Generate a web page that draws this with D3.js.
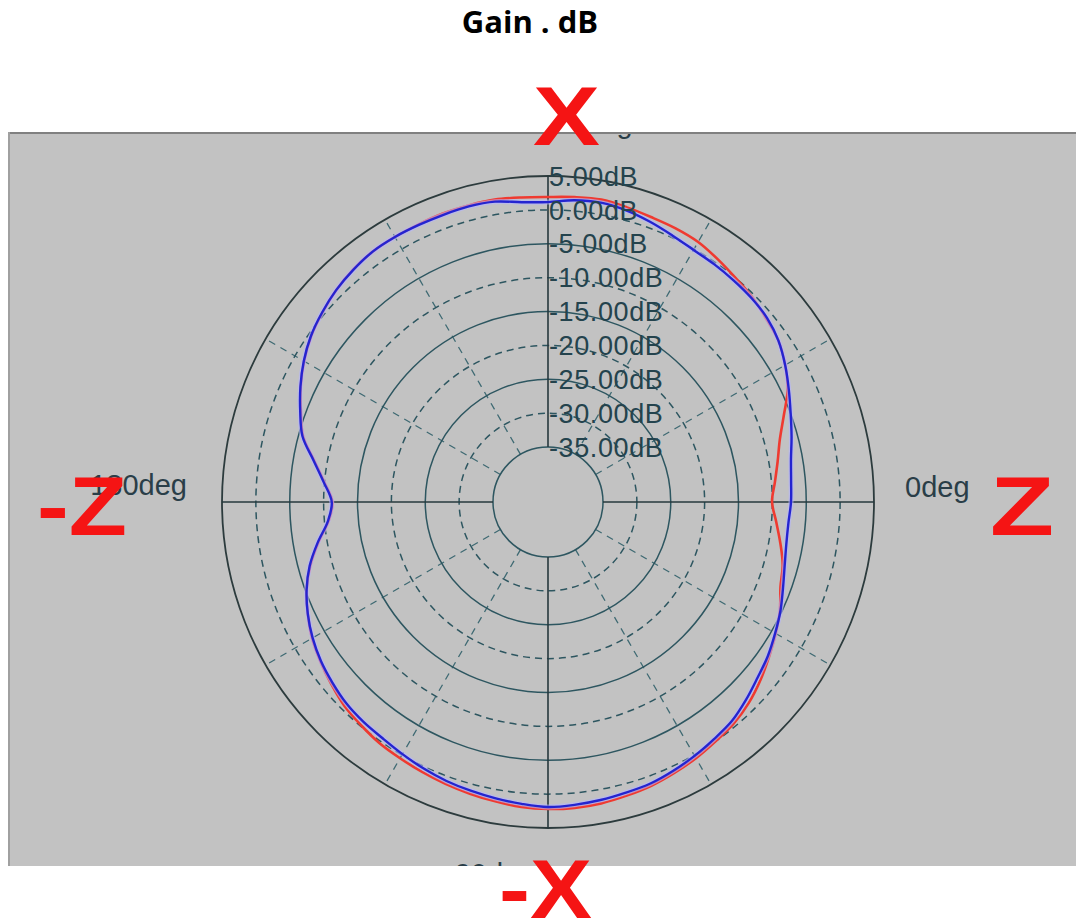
<!DOCTYPE html>
<html>
<head>
<meta charset="utf-8">
<script src="https://d3js.org/d3.v7.min.js"></script>
<style>
  body { margin: 0; background: #fff; }
  svg { display: block; }
</style>
</head>
<body>
<script>
// angle in degrees, 0 = right (Z), 90 = top (X), counter-clockwise
const angles = [0, 5, 10, 15, 20, 25, 30, 35, 40, 45, 50, 55,
  60, 65, 70, 75, 80, 85, 90, 95, 100, 105, 110, 115,
  120, 125, 130, 135, 140, 145, 150, 155, 160, 165, 170, 175,
  180, 185, 190, 195, 200, 205, 210, 215, 220, 225, 230, 235,
  240, 245, 250, 255, 260, 265, 270, 275, 280, 285, 290, 295,
  300, 305, 310, 315, 320, 325, 330, 335, 340, 345, 350, 355];

// gain in dB (blue trace)
const gainBlue = [-7.25, -7.1, -6.7, -5.9, -5.0, -3.9, -2.7, -1.6, -0.9, -0.6, -0.45, -0.3,
  -0.15, 0.3, 0.9, 1.45, 1.75, 1.6, 1.15, 1.3, 1.9, 2.05, 2.0, 2.0,
  2.05, 2.0, 1.6, 1.1, 0.4, -0.4, -1.5, -2.8, -4.2, -5.6, -8.0, -9.9,
  -11.2, -10.5, -8.6, -6.7, -5.2, -4.0, -3.0, -2.2, -1.6, -1.05, -0.75, -0.55,
  -0.15, 0.3, 0.7, 1.0, 1.3, 1.6, 1.9, 1.75, 1.55, 1.3, 1.1, 0.65,
  0.15, -0.4, -0.9, -1.8, -2.75, -3.5, -4.4, -5.25, -6.2, -6.95, -7.4, -7.5];

// gain in dB (red trace)
const gainRed = [-10.05, -9.5, -8.7, -7.7, -6.1, -4.1, -2.7, -1.6, -1.05, -0.45, 0.0, 0.6,
  1.2, 1.45, 1.6, 1.9, 2.2, 2.05, 1.9, 2.0, 2.2, 2.2, 2.2, 2.1,
  2.05, 2.0, 1.65, 1.1, 0.35, -0.45, -1.55, -2.85, -4.3, -5.7, -8.1, -10.0,
  -11.3, -10.6, -8.7, -6.8, -5.2, -4.0, -2.9, -2.1, -1.35, -0.6, -0.15, 0.3,
  0.55, 0.85, 1.15, 1.45, 1.75, 2.05, 2.2, 2.2, 2.05, 1.75, 1.45, 1.0,
  0.55, 0.0, -0.45, -1.2, -2.2, -3.3, -4.3, -5.35, -6.6, -7.25, -8.3, -9.3];

const ringDb = [5, 0, -5, -10, -15, -20, -25, -30, -35];
const spokeAngles = [30, 60, 120, 150, 210, 240, 300, 330];
const angleLabels = [
  { text: "0deg", a: 0 },
  { text: "180deg", a: 180 },
  { text: "90deg", a: 90 },
  { text: "-90deg", a: 270 }
];
const axisMarks = [
  { text: "X", a: 90 },
  { text: "-X", a: 270 },
  { text: "Z", a: 0 },
  { text: "-Z", a: 180 }
];

const width = 1076, height = 923;
const cx = 548, cy = 502;

const svg = d3.select("body").append("svg")
  .attr("width", width)
  .attr("height", height);

svg.append("rect").attr("width", width).attr("height", height).attr("fill", "#fff");

// title
svg.append("text")
  .attr("x", 530).attr("y", 33)
  .attr("text-anchor", "middle")
  .attr("font-family", "'Open Sans', sans-serif")
  .attr("font-weight", "bold")
  .attr("font-size", 31)
  .attr("fill", "#000")
  .text("Gain . dB");

// gray plot panel
const panel = { x: 8, y: 132, w: width - 8, h: 866 - 132 };
svg.append("defs").append("clipPath").attr("id", "panelClip")
  .append("rect")
  .attr("x", panel.x).attr("y", panel.y + 2)
  .attr("width", panel.w).attr("height", panel.h - 2);

svg.append("rect")
  .attr("x", panel.x).attr("y", panel.y)
  .attr("width", panel.w).attr("height", panel.h)
  .attr("fill", "#c2c2c2");
svg.append("line")
  .attr("x1", panel.x).attr("x2", width)
  .attr("y1", panel.y + 1).attr("y2", panel.y + 1)
  .attr("stroke", "#808080").attr("stroke-width", 2);
svg.append("line")
  .attr("x1", panel.x + 1).attr("x2", panel.x + 1)
  .attr("y1", panel.y).attr("y2", panel.y + panel.h)
  .attr("stroke", "#a0a0a0").attr("stroke-width", 2);

const r = d3.scaleLinear().domain([-35, 5]).range([55, 326]);
const rad = a => a * Math.PI / 180;

const g = svg.append("g")
  .attr("transform", `translate(${cx},${cy})`);

// dashed spokes
g.selectAll(".spoke")
  .data(spokeAngles)
  .enter().append("line")
  .attr("class", "spoke")
  .attr("x1", a => r(-35) * Math.cos(rad(a)))
  .attr("y1", a => -r(-35) * Math.sin(rad(a)))
  .attr("x2", a => r(5) * Math.cos(rad(a)))
  .attr("y2", a => -r(5) * Math.sin(rad(a)))
  .attr("stroke", "#3f6a73")
  .attr("stroke-width", 1.3)
  .attr("stroke-dasharray", "7,6");

// rings
g.selectAll(".ring")
  .data(ringDb)
  .enter().append("circle")
  .attr("class", "ring")
  .attr("r", d => r(d))
  .attr("fill", "none")
  .attr("stroke", d => d === 5 ? "#2c3b3d" : "#2d5660")
  .attr("stroke-width", d => d === 5 ? 1.8 : 1.5)
  .attr("stroke-dasharray", d => d % 10 === 0 ? "7,5" : null);

// axes (stop at the inner ring)
const axisColor = "#26383d";
[0, 90, 180, 270].forEach(a => {
  g.append("line")
    .attr("x1", r(-35) * Math.cos(rad(a)))
    .attr("y1", -r(-35) * Math.sin(rad(a)))
    .attr("x2", r(5) * Math.cos(rad(a)))
    .attr("y2", -r(5) * Math.sin(rad(a)))
    .attr("stroke", axisColor)
    .attr("stroke-width", 1.6);
});

// traces
const line = d3.lineRadial()
  .angle(d => rad(90 - d[0]))
  .radius(d => r(d[1]))
  .curve(d3.curveCatmullRomClosed);

const redPts = angles.map((a, i) => [a, gainRed[i]]);
const bluePts = angles.map((a, i) => [a, gainBlue[i]]);

g.append("path")
  .attr("d", line(redPts))
  .attr("fill", "none")
  .attr("stroke", "#ef3a30")
  .attr("stroke-width", 2.6);

g.append("path")
  .attr("d", line(bluePts))
  .attr("fill", "none")
  .attr("stroke", "#b4b4ff")
  .attr("stroke-opacity", 0.6)
  .attr("stroke-width", 5);

g.append("path")
  .attr("d", line(bluePts))
  .attr("fill", "none")
  .attr("stroke", "#2424d0")
  .attr("stroke-width", 2.4);

// ring labels along the vertical axis
g.selectAll(".rlabel")
  .data(ringDb)
  .enter().append("text")
  .attr("class", "rlabel")
  .attr("x", 1)
  .attr("y", d => -r(d))
  .attr("dy", "0.36em")
  .attr("font-family", "'Liberation Sans', Arial, sans-serif")
  .attr("font-size", 27)
  .attr("letter-spacing", 0.6)
  .attr("fill", "#24434d")
  .text(d => d.toFixed(2) + "dB");

// angle labels (the 90/-90 ones are clipped by the panel edge)
const lab = svg.append("g").attr("clip-path", "url(#panelClip)")
  .attr("font-family", "'Liberation Sans', Arial, sans-serif")
  .attr("font-size", 29)
  .attr("fill", "#2a3e48");
const labPos = {
  0: { x: cx + r(5) + 31, y: cy - 5, anchor: "start" },
  180: { x: cx - r(5) - 35, y: cy - 7, anchor: "end" },
  90: { x: 552, y: 133, anchor: "start" },
  270: { x: 445, y: 884, anchor: "start" }
};
lab.selectAll("text")
  .data(angleLabels)
  .enter().append("text")
  .attr("x", d => labPos[d.a].x)
  .attr("y", d => labPos[d.a].y)
  .attr("text-anchor", d => labPos[d.a].anchor)
  .text(d => d.text);

// red axis markers
const markPos = {
  90: { x: 533, y: 145, len: 67 },
  270: { x: 499, y: 918, len: 93 },
  0: { x: 990, y: 535, len: 64 },
  180: { x: 37, y: 535, len: 90 }
};
svg.selectAll(".mark")
  .data(axisMarks)
  .enter().append("text")
  .attr("class", "mark")
  .attr("x", d => markPos[d.a].x)
  .attr("y", d => markPos[d.a].y)
  .attr("textLength", d => markPos[d.a].len)
  .attr("lengthAdjust", "spacingAndGlyphs")
  .attr("font-family", "'Liberation Sans', Arial, sans-serif")
  .attr("font-weight", "bold")
  .attr("font-size", 83)
  .attr("fill", "#f51414")
  .text(d => d.text);
</script>
</body>
</html>
